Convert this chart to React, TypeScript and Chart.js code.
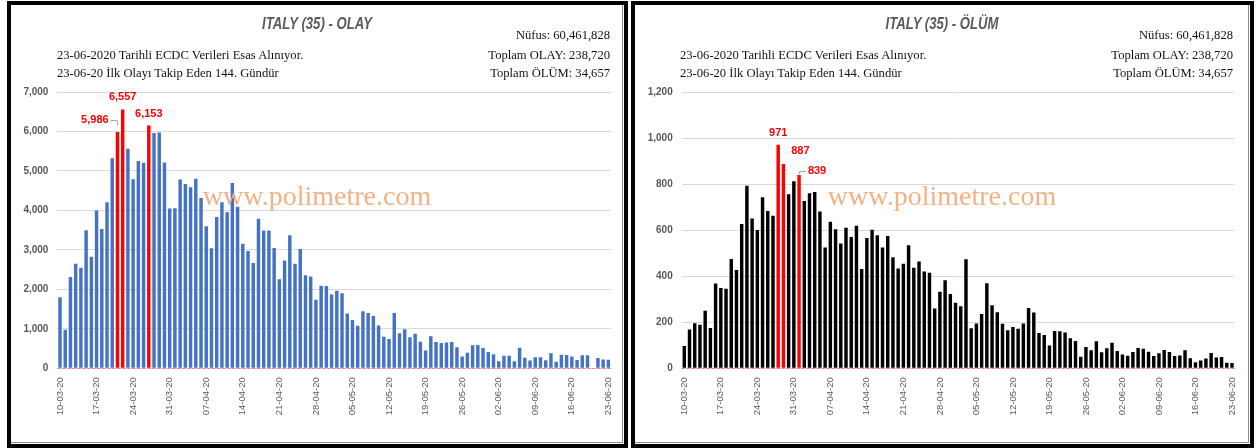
import React, { useEffect, useRef } from "react";
import { Chart, registerables } from "chart.js";

Chart.register(...registerables);

// ---------- data ----------
const startDay = { year: 2020, month: 3, day: 10 };
const dayCount = 106;

const casesValues = [
  1797, 977, 2313, 2651, 2547, 3497, 2823, 4000, 3526, 4207, 5322, 5986, 6557, 5560, 4789, 5249, 5210, 6153, 5959, 5974, 5217, 4050,
  4053, 4782, 4668, 4585, 4805, 4316, 3599, 3039, 3836, 4204, 3951, 4694, 4092, 3153, 2972, 2667, 3786, 3493, 3491, 3047, 2256, 2729, 3370, 2646, 3021, 2357, 2324, 1739, 2091, 2086,
  1872, 1965, 1900, 1389, 1221, 1075, 1444, 1401, 1327, 1083, 802, 744, 1402, 888, 992, 789, 875, 675, 451, 813, 665, 642, 652, 669, 531, 300, 397, 584, 593, 516, 416,
  355, 178, 318, 321, 177, 518, 270, 197, 280, 283, 202, 379, 163, 346, 338, 301, 210, 329, 333, 0, 262, 224, 218,
];

const deathsValues = [
  97, 168, 196, 189, 250, 175, 368, 349, 345, 475, 427, 627, 793, 651, 601, 743, 683, 662, 971, 887, 756, 812,
  839, 727, 760, 766, 681, 525, 636, 604, 542, 610, 570, 619, 431, 566, 602, 578, 525, 575, 482, 433, 454, 534, 437, 464, 420, 415, 260, 333, 382, 323,
  285, 269, 474, 174, 195, 236, 369, 274, 243, 194, 165, 179, 172, 195, 262, 242, 153, 145, 99, 162, 161, 156, 130, 119, 50, 92, 78, 117, 70, 87, 111,
  75, 60, 55, 71, 88, 85, 72, 53, 65, 79, 71, 53, 56, 78, 44, 26, 34, 43, 66, 47, 49, 24, 23,
];

const casesHighlight = [11, 12, 17];
const deathsHighlight = [18, 19, 22];

const casesYMax = 7000;
const casesYStep = 1000;
const deathsYMax = 1200;
const deathsYStep = 200;
const xTickEvery = 7;

const headerLeftLines = [
  "23-06-2020 Tarihli ECDC Verileri Esas Alınıyor.",
  "23-06-20 İlk Olayı Takip Eden 144. Gündür",
];
const headerRightLines = ["Nüfus: 60,461,828", "Toplam OLAY: 238,720", "Toplam ÖLÜM: 34,657"];
const watermarkText = "www.polimetre.com";

function buildDates(): string[] {
  const out: string[] = [];
  const d = new Date(Date.UTC(startDay.year, startDay.month - 1, startDay.day));
  for (let i = 0; i < dayCount; i++) {
    const dd = String(d.getUTCDate()).padStart(2, "0");
    const mm = String(d.getUTCMonth() + 1).padStart(2, "0");
    const yy = String(d.getUTCFullYear()).slice(2);
    out.push(`${dd}-${mm}-${yy}`);
    d.setUTCDate(d.getUTCDate() + 1);
  }
  return out;
}
const dateLabels = buildDates();

// ---------- styling / layout ----------
const SANS = "'Liberation Sans', Arial, sans-serif";
const SERIF = "'Liberation Serif', 'Times New Roman', serif";
const GRAY_TEXT = "#595959";

type Note = { index: number; dx: number; dy: number; leader?: "left" | "right" };

const casesNotes: Note[] = [
  { index: 11, dx: -22.6, dy: -11.7, leader: "left" },
  { index: 12, dx: 0, dy: -12.6 },
  { index: 17, dx: 0, dy: -11.4 },
];
const deathsNotes: Note[] = [
  { index: 18, dx: 0, dy: -12 },
  { index: 19, dx: 17, dy: -12.7 },
  { index: 22, dx: 18, dy: -4.6, leader: "right" },
];

const notesPlugin = {
  id: "notes",
  afterDatasetsDraw(chart: any, _args: any, opts: any) {
    const { ctx, chartArea, scales } = chart;
    const y0 = scales.y.getPixelForValue(0);
    ctx.save();
    ctx.strokeStyle = "#FF7C80";
    ctx.lineWidth = 1;
    ctx.setLineDash([3, 2]);
    ctx.beginPath();
    ctx.moveTo(chartArea.left, Math.round(y0) + 0.5);
    ctx.lineTo(chartArea.right, Math.round(y0) + 0.5);
    ctx.stroke();
    ctx.setLineDash([]);

    const meta = chart.getDatasetMeta(0);
    const data = chart.data.datasets[0].data as number[];
    ctx.font = `bold 11px ${SANS}`;
    ctx.textAlign = "center";
    ctx.textBaseline = "middle";
    for (const n of (opts.notes || []) as Note[]) {
      const el = meta.data[n.index];
      const text = data[n.index].toLocaleString("en-US");
      const lx = el.x + n.dx;
      const ly = el.y + n.dy;
      ctx.fillStyle = "#FF0000";
      ctx.fillText(text, lx, ly);
      if (n.leader) {
        const w = ctx.measureText(text).width;
        ctx.strokeStyle = "#A6A6A6";
        ctx.lineWidth = 1;
        ctx.beginPath();
        const sx = n.leader === "left" ? lx + w / 2 + 2 : lx - w / 2 - 2;
        const yy = Math.round(ly) + 0.5;
        ctx.moveTo(sx, yy);
        ctx.lineTo(Math.round(el.x) + 0.5, yy);
        ctx.lineTo(Math.round(el.x) + 0.5, Math.min(yy + 5, el.y - 1));
        ctx.stroke();
      }
    }
    ctx.restore();
  },
};

type PanelProps = {
  left: number;
  width: number;
  borderLeft: number;
  borderWidth: number;
  title: string;
  titleCenter: number;
  textLeft: number;
  textRight: number;
  values: number[];
  highlight: number[];
  baseColor: string;
  yMax: number;
  yStep: number;
  yAxisWidth: number;
  padRight: number;
  notes: Note[];
};

function Panel(p: PanelProps) {
  const canvasRef = useRef<HTMLCanvasElement | null>(null);

  useEffect(() => {
    const canvas = canvasRef.current;
    if (!canvas) return;
    const colors = p.values.map((_, i) => (p.highlight.includes(i) ? "#FF0000" : p.baseColor));
    const chart = new Chart(canvas, {
      type: "bar",
      data: {
        labels: dateLabels,
        datasets: [
          {
            data: p.values,
            backgroundColor: colors,
            borderWidth: 0,
            barPercentage: 0.66,
            categoryPercentage: 1,
          },
        ],
      },
      options: {
        responsive: true,
        maintainAspectRatio: false,
        animation: false,
        layout: { padding: { top: 92, right: p.padRight, bottom: 0, left: 0 } },
        plugins: {
          legend: { display: false },
          tooltip: { enabled: false },
          title: { display: false },
          notes: { notes: p.notes },
        } as any,
        scales: {
          x: {
            grid: { display: false, drawTicks: false },
            border: { display: false },
            ticks: {
              autoSkip: false,
              minRotation: 90,
              maxRotation: 90,
              padding: 9,
              color: GRAY_TEXT,
              font: { family: SANS, size: 9.5 },
              callback: (_v: any, i: number) => (i % xTickEvery === 0 ? dateLabels[i] : ""),
            },
            afterFit: (scale: any) => {
              scale.height = 79.7;
              scale.paddingLeft = 0;
              scale.paddingRight = 0;
            },
          },
          y: {
            min: 0,
            max: p.yMax,
            grid: { color: "#D9D9D9", lineWidth: 1, drawTicks: false },
            border: { display: false },
            ticks: {
              stepSize: p.yStep,
              padding: 9,
              color: GRAY_TEXT,
              font: { family: SANS, size: 10, weight: "bold" },
              callback: (v: any) => Number(v).toLocaleString("en-US"),
            },
            afterFit: (scale: any) => {
              scale.width = p.yAxisWidth;
              scale.paddingTop = 0;
              scale.paddingBottom = 0;
            },
          },
        },
      },
      plugins: [notesPlugin as any],
    });
    return () => chart.destroy();
  }, []);

  const textStyle: React.CSSProperties = {
    position: "absolute",
    fontFamily: SERIF,
    fontSize: 12.6,
    lineHeight: "13px",
    color: "#111",
    whiteSpace: "nowrap",
  };
  const leftYs = [56, 74];
  const rightYs = [36, 56, 74];

  return (
    <div style={{ position: "absolute", left: p.left, top: 0, width: p.width, height: 448 }}>
      <div
        style={{
          position: "absolute",
          left: p.borderLeft,
          top: 1,
          width: p.borderWidth,
          height: 447,
          boxSizing: "border-box",
          border: "4px solid #000",
          background: "#fff",
        }}
      >
        <div
          style={{
            position: "absolute",
            left: 0,
            top: 0,
            right: 1,
            bottom: 1,
            borderRight: "1px solid #8c8c8c",
            borderBottom: "1px solid #8c8c8c",
          }}
        />
      </div>
      <div style={{ position: "absolute", left: 0, top: 0, width: p.width, height: 448 }}>
        <canvas ref={canvasRef} />
      </div>
      <div
        style={{
          position: "absolute",
          left: p.titleCenter - 150,
          width: 300,
          top: 16,
          textAlign: "center",
          fontFamily: SANS,
          fontSize: 16,
          lineHeight: "16px",
          fontWeight: "bold",
          fontStyle: "italic",
          color: GRAY_TEXT,
          transform: "scaleX(0.82)",
          whiteSpace: "nowrap",
        }}
      >
        {p.title}
      </div>
      {headerLeftLines.map((t, i) => (
        <div key={"l" + i} style={{ ...textStyle, left: p.textLeft, top: leftYs[i] - 7 }}>
          {t}
        </div>
      ))}
      {headerRightLines.map((t, i) => (
        <div
          key={"r" + i}
          style={{ ...textStyle, right: p.width - p.textRight, top: rightYs[i] - 7, textAlign: "right" }}
        >
          {t}
        </div>
      ))}
      <div
        style={{
          position: "absolute",
          left: p.titleCenter - 200,
          width: 400,
          top: 181,
          textAlign: "center",
          fontFamily: SERIF,
          fontSize: 28,
          lineHeight: "30px",
          color: "#F4B183",
          whiteSpace: "nowrap",
        }}
      >
        {watermarkText}
      </div>
    </div>
  );
}

export default function App() {
  return (
    <div style={{ position: "fixed", left: 0, top: 0, width: 1257, height: 448, background: "#fff", overflow: "hidden" }}>
      <Panel
        left={0}
        width={630}
        borderLeft={7}
        borderWidth={621}
        title="ITALY (35) - OLAY"
        titleCenter={317}
        textLeft={57}
        textRight={610}
        values={casesValues}
        highlight={casesHighlight}
        baseColor="#4472C4"
        yMax={casesYMax}
        yStep={casesYStep}
        yAxisWidth={57.4}
        padRight={19}
        notes={casesNotes}
      />
      <Panel
        left={630}
        width={627}
        borderLeft={1}
        borderWidth={623}
        title="ITALY (35) - ÖLÜM"
        titleCenter={312}
        textLeft={50}
        textRight={603}
        values={deathsValues}
        highlight={deathsHighlight}
        baseColor="#000000"
        yMax={deathsYMax}
        yStep={deathsYStep}
        yAxisWidth={51.7}
        padRight={22.4}
        notes={deathsNotes}
      />
    </div>
  );
}
